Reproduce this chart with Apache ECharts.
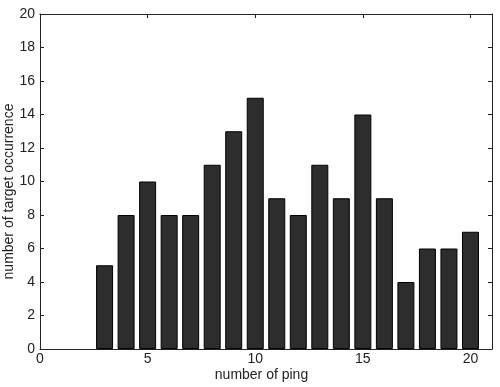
<!DOCTYPE html>
<html><head><meta charset="utf-8">
<script src="https://cdn.jsdelivr.net/npm/echarts@6/dist/echarts.min.js"></script>
<style>html,body{margin:0;padding:0;background:#fff}#c{width:500px;height:387px}</style>
</head><body><div id="c"></div>
<script>
const pings = [3,4,5,6,7,8,9,10,11,12,13,14,15,16,17,18,19,20];
const occurrences = [5,8,10,8,8,11,13,15,9,8,11,9,14,9,4,6,6,7];
const xTicks = [0,5,10,15,20];
const yTicks = [0,2,4,6,8,10,12,14,16,18,20];

const chart = echarts.init(document.getElementById('c'), null, {renderer:'canvas'});
const FF = 'Liberation Sans, Arial, sans-serif';
const lab = {color:'#222', fontFamily:FF, fontSize:14};
const line = {show:true, onZero:false, lineStyle:{color:'#222', width:1}};
const tick = {show:true, inside:true, length:4, lineStyle:{color:'#222'}};
chart.setOption({
  animation:false,
  grid:{left:40, right:8, top:14, bottom:38, containLabel:false, outerBoundsMode:'none'},
  xAxis:[{
    type:'value', min:0, max:21, interval:5, position:'bottom',
    axisLine:line, axisTick:tick,
    axisLabel:Object.assign({margin:3, formatter:v=>xTicks.includes(v)?String(v):''}, lab),
    splitLine:{show:false},
    name:'number of ping', nameLocation:'middle', nameGap:19, nameMoveOverlap:false,
    nameTextStyle:{color:'#222', fontFamily:FF, fontSize:14, padding:[0,9,0,0]}
  },{
    type:'value', min:0, max:21, interval:5, position:'top',
    axisLine:line, axisTick:tick,
    axisLabel:{show:false}, splitLine:{show:false}
  }],
  yAxis:[{
    type:'value', min:0, max:20, interval:2, position:'left',
    axisLine:line, axisTick:tick,
    axisLabel:Object.assign({margin:5, formatter:v=>yTicks.includes(v)?String(v):''}, lab),
    splitLine:{show:false},
    name:'number of target occurrence', nameLocation:'middle', nameGap:24, nameRotate:90, nameMoveOverlap:false,
    nameTextStyle:{color:'#222', fontFamily:FF, fontSize:14, padding:[0,20,0,0]}
  },{
    type:'value', min:0, max:20, interval:2, position:'right',
    axisLine:line, axisTick:tick,
    axisLabel:{show:false}, splitLine:{show:false}
  }],
  series:[{
    type:'bar', xAxisIndex:0, yAxisIndex:0,
    data:pings.map((p,i)=>[p, occurrences[i]]),
    barWidth:17,
    itemStyle:{color:'#2d2d2d', borderColor:'#000', borderWidth:1}
  },{
    type:'line', xAxisIndex:1, yAxisIndex:1, data:[], silent:true
  }]
});
</script></body></html>
